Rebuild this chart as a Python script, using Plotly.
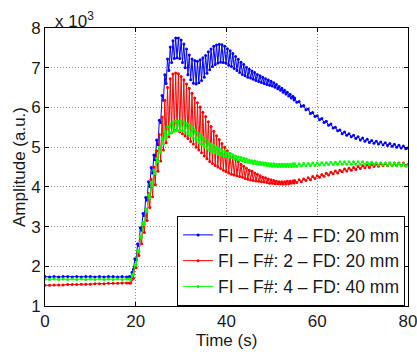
import plotly.graph_objects as go

# Sampling grid (s): 1 s baseline, 0.3 s through the oscillating part, 0.5 s tail
TIME = ([float(i) for i in range(19)]
        + [round(18.6 + 0.3 * k, 1) for k in range(122)]
        + [round(55.0 + 0.5 * k, 1) for k in range(51)])

# Amplitudes read in units of 10^3 (a.u.)
BLUE_BASE = [1.74, 1.73, 1.74, 1.73, 1.74, 1.74, 1.73, 1.74, 1.73, 1.74,
             1.74, 1.73, 1.74, 1.73, 1.74, 1.74, 1.73, 1.74, 1.73]
BLUE_OSC = [1.74, 1.73, 1.85, 1.93, 2.19, 2.16, 2.56, 2.52, 2.97, 2.91,
            3.33, 3.27, 3.73, 3.66, 4.13, 4.01, 4.49, 4.35, 4.80, 4.68,
            5.18, 5.06, 5.68, 5.62, 6.30, 6.18, 6.82, 6.60, 7.22, 6.93,
            7.52, 7.13, 7.68, 7.23, 7.75, 7.25, 7.75, 7.23, 7.70, 7.13,
            7.60, 7.00, 7.47, 6.82, 7.32, 6.70, 7.22, 6.61, 7.18, 6.59,
            7.16, 6.62, 7.20, 6.68, 7.25, 6.76, 7.31, 6.86, 7.40, 6.95,
            7.47, 7.03, 7.54, 7.08, 7.57, 7.12, 7.59, 7.14, 7.58, 7.13,
            7.54, 7.11, 7.48, 7.06, 7.43, 7.03, 7.36, 6.98, 7.28, 6.93,
            7.21, 6.88, 7.14, 6.83, 7.08, 6.80, 7.01, 6.76, 6.96, 6.74,
            6.92, 6.71, 6.88, 6.68, 6.83, 6.65, 6.80, 6.63, 6.76, 6.60,
            6.72, 6.58, 6.69, 6.56, 6.66, 6.54, 6.62, 6.51, 6.58, 6.47,
            6.53, 6.43, 6.48, 6.38, 6.43, 6.34, 6.38, 6.29, 6.33, 6.24,
            6.28, 6.19]
BLUE_TAIL = [6.24, 6.13, 6.15, 6.03, 6.05, 5.94, 5.96, 5.85, 5.87, 5.77,
             5.79, 5.69, 5.72, 5.62, 5.65, 5.55, 5.58, 5.48, 5.50, 5.41,
             5.43, 5.34, 5.38, 5.30, 5.34, 5.26, 5.30, 5.22, 5.26, 5.18,
             5.23, 5.15, 5.20, 5.12, 5.17, 5.10, 5.15, 5.08, 5.13, 5.06,
             5.11, 5.04, 5.09, 5.02, 5.07, 5.00, 5.05, 4.98, 5.03, 4.96,
             4.98]

RED_BASE = [1.52, 1.52, 1.53, 1.53, 1.53, 1.54, 1.54, 1.54, 1.55, 1.55,
            1.55, 1.56, 1.56, 1.56, 1.57, 1.57, 1.57, 1.58, 1.58]
RED_OSC = [1.58, 1.58, 1.67, 1.70, 1.98, 1.96, 2.38, 2.27, 2.75, 2.57,
           3.10, 2.85, 3.44, 3.15, 3.83, 3.48, 4.19, 3.75, 4.50, 4.05,
           4.91, 4.39, 5.32, 4.65, 5.76, 4.93, 6.18, 5.11, 6.50, 5.26,
           6.72, 5.36, 6.84, 5.43, 6.87, 5.43, 6.85, 5.39, 6.78, 5.34,
           6.70, 5.28, 6.59, 5.22, 6.48, 5.14, 6.36, 5.08, 6.24, 5.00,
           6.12, 4.93, 6.01, 4.86, 5.88, 4.78, 5.77, 4.71, 5.64, 4.64,
           5.52, 4.59, 5.40, 4.54, 5.29, 4.50, 5.19, 4.46, 5.09, 4.42,
           5.00, 4.38, 4.91, 4.35, 4.84, 4.32, 4.76, 4.30, 4.69, 4.28,
           4.63, 4.26, 4.57, 4.24, 4.52, 4.21, 4.47, 4.19, 4.42, 4.17,
           4.39, 4.16, 4.35, 4.15, 4.32, 4.14, 4.28, 4.13, 4.24, 4.12,
           4.23, 4.11, 4.20, 4.09, 4.18, 4.09, 4.16, 4.08, 4.14, 4.08,
           4.13, 4.07, 4.13, 4.07, 4.13, 4.07, 4.14, 4.08, 4.14, 4.09,
           4.15, 4.10]
RED_TAIL = [4.16, 4.11, 4.18, 4.13, 4.20, 4.16, 4.23, 4.18, 4.26, 4.21,
            4.28, 4.24, 4.31, 4.27, 4.34, 4.30, 4.37, 4.33, 4.40, 4.35,
            4.42, 4.38, 4.45, 4.40, 4.47, 4.42, 4.49, 4.44, 4.51, 4.46,
            4.53, 4.48, 4.55, 4.49, 4.56, 4.51, 4.57, 4.52, 4.58, 4.53,
            4.59, 4.53, 4.60, 4.54, 4.60, 4.54, 4.60, 4.54, 4.60, 4.54,
            4.57]

GREEN_BASE = [1.68, 1.67, 1.68, 1.67, 1.68, 1.67, 1.68, 1.67, 1.68, 1.67,
              1.68, 1.67, 1.68, 1.67, 1.68, 1.67, 1.68, 1.67, 1.68]
GREEN_OSC = [1.68, 1.67, 1.77, 1.81, 2.04, 2.03, 2.39, 2.37, 2.75, 2.73,
             3.10, 3.05, 3.44, 3.38, 3.80, 3.73, 4.12, 4.03, 4.42, 4.33,
             4.72, 4.63, 5.00, 4.88, 5.23, 5.08, 5.40, 5.22, 5.52, 5.32,
             5.59, 5.37, 5.63, 5.40, 5.65, 5.41, 5.66, 5.42, 5.66, 5.41,
             5.64, 5.38, 5.60, 5.34, 5.56, 5.29, 5.50, 5.23, 5.44, 5.18,
             5.37, 5.12, 5.31, 5.07, 5.24, 5.01, 5.19, 4.96, 5.13, 4.93,
             5.08, 4.89, 5.04, 4.86, 4.99, 4.83, 4.96, 4.81, 4.92, 4.79,
             4.90, 4.77, 4.86, 4.75, 4.84, 4.73, 4.81, 4.70, 4.78, 4.69,
             4.76, 4.67, 4.74, 4.65, 4.72, 4.63, 4.70, 4.62, 4.67, 4.61,
             4.66, 4.59, 4.65, 4.58, 4.63, 4.57, 4.62, 4.56, 4.61, 4.55,
             4.60, 4.54, 4.59, 4.53, 4.58, 4.52, 4.58, 4.52, 4.57, 4.51,
             4.57, 4.51, 4.57, 4.51, 4.57, 4.51, 4.57, 4.51, 4.57, 4.51,
             4.58, 4.52]
GREEN_TAIL = [4.58, 4.52, 4.58, 4.53, 4.59, 4.53, 4.59, 4.54, 4.60, 4.54,
              4.60, 4.55, 4.61, 4.55, 4.61, 4.56, 4.62, 4.56, 4.62, 4.57,
              4.63, 4.57, 4.63, 4.57, 4.63, 4.57, 4.63, 4.57, 4.63, 4.57,
              4.63, 4.57, 4.62, 4.56, 4.62, 4.56, 4.61, 4.55, 4.61, 4.55,
              4.60, 4.54, 4.60, 4.54, 4.59, 4.53, 4.59, 4.53, 4.58, 4.52,
              4.55]

SERIES_NAMES = ["FI \u2013 F#: 4 \u2013 FD: 20 mm",
                "FI \u2013 F#: 2 \u2013 FD: 20 mm",
                "FI \u2013 F#: 4 \u2013 FD: 40 mm"]
SERIES_COLORS = ["#0000ff", "#ff0000", "#00ff00"]
X_TICKS = [0, 20, 40, 60, 80]
Y_TICKS = [1, 2, 3, 4, 5, 6, 7, 8]

series_values = [BLUE_BASE + BLUE_OSC + BLUE_TAIL,
                 RED_BASE + RED_OSC + RED_TAIL,
                 GREEN_BASE + GREEN_OSC + GREEN_TAIL]
for vals in series_values:
    assert len(vals) == len(TIME), (len(vals), len(TIME))

FONT = "Liberation Sans, Arial, Helvetica, sans-serif"
TXT = "#1a1a1a"

fig = go.Figure()
for name, color, vals in zip(SERIES_NAMES, SERIES_COLORS, series_values):
    fig.add_trace(go.Scatter(
        x=TIME, y=vals, name=name, mode="lines+markers",
        line=dict(color=color, width=1),
        marker=dict(color=color, size=3, symbol="circle"),
    ))

axis_common = dict(
    showline=True, linecolor="black", linewidth=1, mirror="ticks",
    ticks="inside", ticklen=4, tickcolor="black",
    showgrid=True, gridcolor="#8a8a8a", griddash="1px,2px", gridwidth=1,
    zeroline=False, automargin=False, ticklabeloverflow="allow",
    tickfont=dict(family=FONT, size=17, color=TXT),
)

fig.update_layout(
    width=417, height=354,
    margin=dict(l=45, r=9, t=28, b=48),
    paper_bgcolor="white", plot_bgcolor="white",
    font=dict(family=FONT, size=17, color=TXT),
    xaxis=dict(range=[0, 80], tickvals=X_TICKS,
               title=dict(text="Time (s)", font=dict(family=FONT, size=17, color=TXT),
                          standoff=0),
               **axis_common),
    yaxis=dict(range=[1, 8], tickvals=Y_TICKS,
               title=dict(text="Amplitude (a.u.)",
                          font=dict(family=FONT, size=17, color=TXT), standoff=1),
               **axis_common),
    legend=dict(x=0.992, y=0.0, xanchor="right", yanchor="bottom",
                bgcolor="white", bordercolor="black", borderwidth=1,
                font=dict(family=FONT, size=17.5, color=TXT),
                tracegroupgap=0, itemwidth=30),
    showlegend=True,
)

fig.add_annotation(
    text="x 10<sup>3</sup>", xref="paper", yref="paper",
    x=0.0, y=1.0, xanchor="left", yanchor="bottom", yshift=-5, xshift=8,
    showarrow=False, font=dict(family=FONT, size=17, color=TXT),
)

fig.write_html(
    "out.html",
    config={"displayModeBar": False},
    post_script="document.body.style.margin='0';document.body.style.padding='0';",
)
